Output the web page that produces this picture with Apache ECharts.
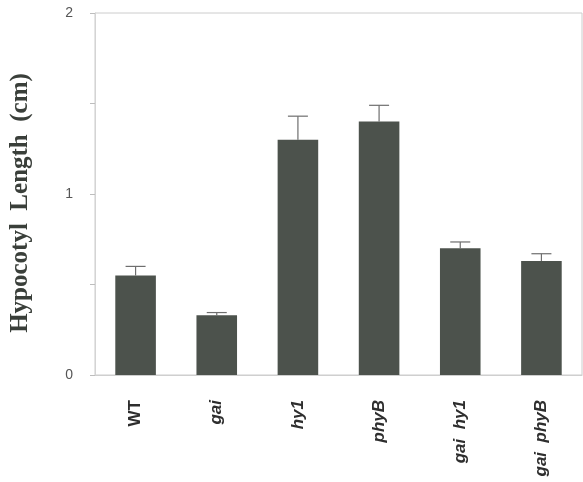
<!DOCTYPE html>
<html>
<head>
<meta charset="utf-8">
<script src="https://cdn.jsdelivr.net/npm/echarts@6/dist/echarts.min.js"></script>
<style>
  html, body { margin: 0; padding: 0; background: #fff; }
  #chart { width: 583px; height: 482px; }
</style>
</head>
<body>
<div id="chart"></div>
<script>
// Hypocotyl length per genotype (cm), with upper standard error
const genotypes = ['WT', 'gai', 'hy1', 'phyB', 'gai  hy1', 'gai  phyB'];
const meanLength = [0.55, 0.33, 1.30, 1.40, 0.70, 0.63];
const errorUpper = [0.60, 0.345, 1.43, 1.49, 0.735, 0.67];
const yTicks = [0, 1, 2];

const chart = echarts.init(document.getElementById('chart'));

const errorData = genotypes.map((g, i) => [i, meanLength[i], errorUpper[i]]);

chart.setOption({
  backgroundColor: '#ffffff',
  animation: false,
  grid: {
    left: 94, right: 1, top: 13, bottom: 107,
    show: true, borderColor: '#cccccc', borderWidth: 1
  },
  xAxis: {
    type: 'category',
    data: genotypes,
    axisLine: { lineStyle: { color: '#cfcfcf' } },
    axisTick: { alignWithLabel: true, length: 8, lineStyle: { color: '#bdbdbd' } },
    axisLabel: {
      rotate: 90,
      margin: 25,
      fontFamily: 'Liberation Sans',
      fontWeight: 'bold',
      fontSize: 17,
      color: '#2e2e2e',
      formatter: v => v === 'WT' ? v : '{i|' + v + '}',
      rich: {
        i: { fontStyle: 'italic', fontWeight: 'bold', fontSize: 17, fontFamily: 'Liberation Sans', color: '#2e2e2e' }
      }
    }
  },
  yAxis: {
    type: 'value',
    min: yTicks[0],
    max: yTicks[yTicks.length - 1],
    interval: 1,
    name: 'Hypocotyl  Length  (cm)',
    nameLocation: 'middle',
    nameGap: 62,
    nameTextStyle: {
      fontFamily: 'Liberation Serif',
      fontWeight: 'bold',
      fontSize: 25,
      color: '#3a3f3a',
      padding: [0, 18, 0, 0]
    },
    axisLine: { show: true, lineStyle: { color: '#d4d4d4' } },
    axisTick: { show: true, length: 5, lineStyle: { color: '#bdbdbd' } },
    minorTick: { show: true, splitNumber: 2, length: 5, lineStyle: { color: '#bdbdbd' } },
    splitLine: { show: false },
    axisLabel: {
      margin: 22,
      fontFamily: 'Liberation Sans',
      fontSize: 14,
      color: '#555'
    }
  },
  series: [
    {
      type: 'bar',
      data: meanLength,
      barWidth: '50%',
      itemStyle: { color: '#4c524c' }
    },
    {
      type: 'custom',
      data: errorData,
      z: 1,
      renderItem: function (params, api) {
        const x = api.value(0);
        const base = api.coord([x, api.value(1)]);
        const top = api.coord([x, api.value(2)]);
        const half = 10;
        const style = { stroke: '#6e6e6e', lineWidth: 1.2 };
        return {
          type: 'group',
          children: [
            { type: 'line', shape: { x1: base[0], y1: base[1], x2: top[0], y2: top[1] }, style },
            { type: 'line', shape: { x1: top[0] - half, y1: top[1], x2: top[0] + half, y2: top[1] }, style }
          ]
        };
      }
    }
  ]
});
</script>
</body>
</html>
